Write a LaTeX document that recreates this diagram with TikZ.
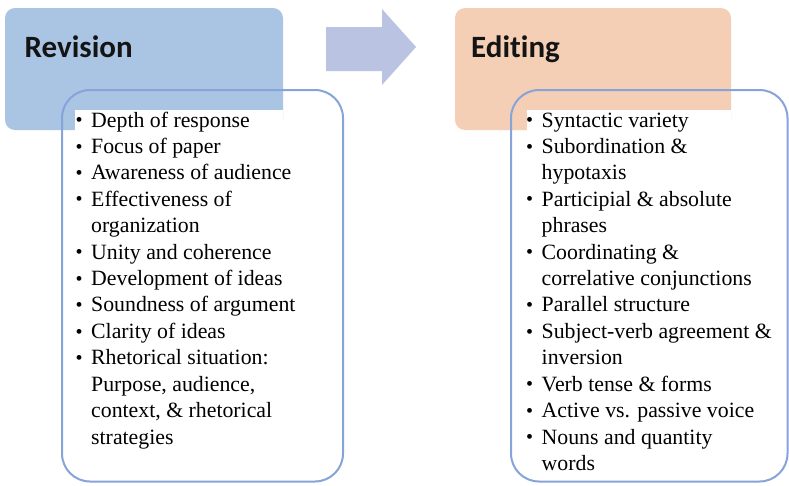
\documentclass[tikz,border=0pt]{standalone}
\usepackage{fontspec}
\setmainfont{Liberation Serif}
\newfontfamily\hdrfont[Ligatures=NoCommon]{Carlito}
\definecolor{revblue}{HTML}{AAC4E4}
\definecolor{editpeach}{HTML}{F4CFB5}
\definecolor{arrowlav}{HTML}{BAC3E1}
\definecolor{boxline}{HTML}{86A3DA}
\newcommand\bul{\makebox[15.5pt][l]{\raisebox{0.3pt}{\scalebox{0.92}{\textbullet}}}}
\newcommand\cont{\hspace*{15.5pt}}
\tikzset{
  hdrbox/.style={rounded corners=10pt, draw=none},
  hdrtext/.style={anchor=base west, inner sep=0pt, font=\hdrfont\bfseries\fontsize{31}{36}\selectfont, text=black!92},
  listbox/.style={rounded corners=28pt, draw=boxline, line width=2pt},
  listtext/.style={anchor=base west, inner sep=0pt, font=\fontsize{21.8}{26.42}\selectfont, text=black}
}
\begin{document}
\begin{tikzpicture}[x=1pt,y=-1pt]
\useasboundingbox (0,0) rectangle (789,485);
\fill[white] (0,0) rectangle (789,485);
% headers
\fill[revblue, hdrbox] (5,8) rectangle (283,130);
\fill[editpeach, hdrbox] (455,8) rectangle (731,130);
\node[hdrtext] (revt) at (24.5,57) {Revision};
\node[hdrtext] (editt) at (471,57) {Editing};
% arrow
\fill[arrowlav] (326,27) -- (382,27) -- (382,9) -- (416,47) -- (382,85) -- (382,71) -- (326,71) -- cycle;
% white text patches
\fill[white] (75,110) rectangle (283,131);
\fill[white] (527,110) rectangle (731,131);
% list boxes
\draw[listbox] (62,90) rectangle (343,481.5);
\draw[listbox] (511,90) rectangle (787.5,481.5);
% lists
\node[listtext] (revlist) at (75.5,127) {\begin{tabular}[t]{@{}l@{}}
\bul Depth of response\\
\bul Focus of paper\\
\bul Awareness of audience\\
\bul Effectiveness of\\
\cont organization\\
\bul Unity and coherence\\
\bul Development of ideas\\
\bul Soundness of argument\\
\bul Clarity of ideas\\
\bul Rhetorical situation:\\
\cont Purpose, audience,\\
\cont context, \& rhetorical\\
\cont strategies
\end{tabular}};
\node[listtext] (editlist) at (526,127) {\begin{tabular}[t]{@{}l@{}}
\bul Syntactic variety\\
\bul Subordination \&\\
\cont hypotaxis\\
\bul Participial \& absolute\\
\cont phrases\\
\bul Coordinating \&\\
\cont correlative conjunctions\\
\bul Parallel structure\\
\bul Subject-verb agreement \&\\
\cont inversion\\
\bul Verb tense \& forms\\
\bul Active vs. passive voice\\
\bul Nouns and quantity\\
\cont words
\end{tabular}};
\end{tikzpicture}
\end{document}
